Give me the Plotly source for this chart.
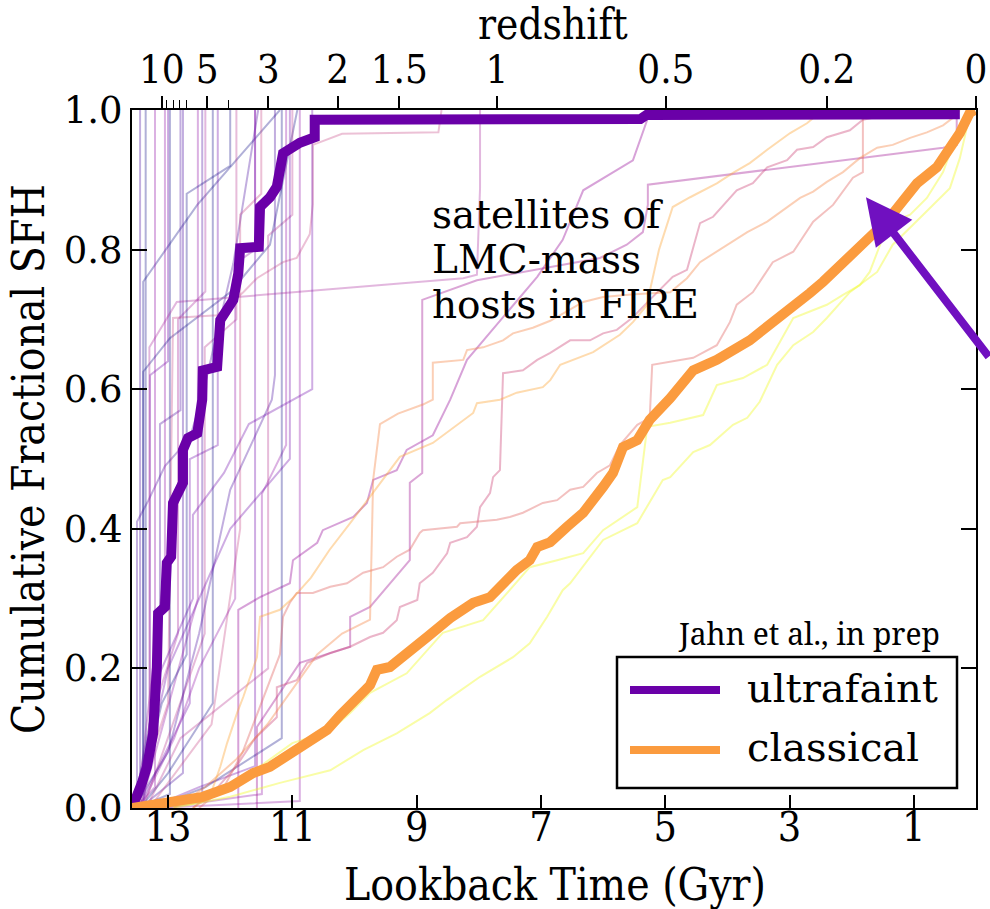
import plotly.graph_objects as go

# ---------------------------------------------------------------------------
# Cumulative star-formation histories of satellites of LMC-mass hosts (FIRE)
# x = lookback time in Gyr, y = cumulative fraction of stellar mass formed
# ---------------------------------------------------------------------------

X_RANGE = [13.58, 0.0]
X_TICKS = [13, 11, 9, 7, 5, 3, 1]
Y_TICKS = [0.0, 0.2, 0.4, 0.6, 0.8, 1.0]
Y_TICK_TEXT = ["0.0", "0.2", "0.4", "0.6", "0.8", "1.0"]

# redshift ticks along the top and the lookback times (Gyr) they sit at
Z_MAJOR_TEXT = ["10", "5", "3", "2", "1.5", "1", "0.5", "0.2", "0"]
Z_MAJOR_LOOKBACK = [13.10, 12.37, 11.39, 10.27, 9.28, 7.71, 4.99, 2.40, 0.0]
Z_MINOR_LOOKBACK = [13.02, 12.92, 12.82, 12.71, 12.02]   # z = 9, 8, 7, 6, 4

# median histories ----------------------------------------------------------
UF_MEDIAN_T = [13.58, 13.50, 13.42, 13.34, 13.24, 13.18, 13.16, 13.05, 13.02,
               12.95, 12.92, 12.76, 12.76, 12.68, 12.53, 12.45, 12.44, 12.21,
               12.16, 11.95, 11.87, 11.84, 11.54, 11.52, 11.36, 11.25, 11.15,
               10.88, 10.64, 10.64, 5.40, 5.30, 0.26]
UF_MEDIAN_F = [0.000, 0.016, 0.036, 0.059, 0.107, 0.202, 0.279, 0.288, 0.351,
               0.360, 0.437, 0.466, 0.513, 0.530, 0.537, 0.585, 0.627, 0.632,
               0.699, 0.728, 0.766, 0.802, 0.804, 0.861, 0.875, 0.890, 0.938,
               0.953, 0.961, 0.986, 0.987, 0.993, 0.994]

CL_MEDIAN_T = [13.58, 12.97, 12.44, 12.00, 11.63, 11.36, 10.99, 10.72, 10.44,
               10.23, 10.02, 9.75, 9.64, 9.43, 8.83, 8.46, 8.09, 7.82, 7.39,
               7.18, 7.06, 6.85, 6.58, 6.32, 6.00, 5.84, 5.68, 5.45, 5.25,
               4.92, 4.55, 4.17, 3.64, 2.99, 2.67, 2.46, 2.03, 1.59, 1.38,
               1.17, 0.95, 0.63, 0.42, 0.26, 0.10, 0.02]
CL_MEDIAN_F = [0.000, 0.007, 0.016, 0.030, 0.050, 0.059, 0.079, 0.093, 0.112,
               0.133, 0.150, 0.176, 0.198, 0.202, 0.245, 0.272, 0.294, 0.302,
               0.341, 0.355, 0.374, 0.381, 0.403, 0.423, 0.460, 0.480, 0.517,
               0.527, 0.556, 0.587, 0.627, 0.642, 0.670, 0.713, 0.738, 0.754,
               0.789, 0.828, 0.847, 0.871, 0.895, 0.918, 0.947, 0.967, 0.996,
               1.000]

# individual ultrafaint satellites: (lookback, fraction) pairs -----------------
UF_01 = [(13.58, 0), (13.40, 0.02), (13.40, 0.754), (12.53, 0.864), (11.20, 1.0)]
UF_02 = [(13.58, 0), (13.50, 0.01), (13.50, 0.41), (13.32, 0.44), (13.05, 0.49),
         (12.65, 0.53), (12.45, 0.59), (11.95, 0.78), (11.55, 1.0)]
UF_03 = [(13.56, 0), (13.36, 0.05), (13.36, 1.0)]
UF_04 = [(13.55, 0), (13.29, 0.10), (13.29, 0.62), (13.00, 0.64), (13.00, 1.0)]
UF_05 = [(13.52, 0), (13.21, 0.03), (13.21, 1.0)]
UF_06 = [(13.55, 0), (13.13, 0.20), (13.13, 0.55), (12.80, 0.57), (12.80, 1.0)]
UF_07 = [(13.50, 0), (13.05, 0.35), (13.05, 1.0)]
UF_08 = [(13.50, 0), (12.97, 0.02), (12.97, 1.0)]
UF_09 = [(13.45, 0), (13.30, 0.12), (12.84, 0.25), (12.84, 0.70), (12.40, 0.74),
         (12.40, 1.0)]
UF_10 = [(13.45, 0), (12.76, 0.05), (12.76, 1.0)]
UF_11 = [(13.58, 0), (13.40, 0.05), (13.40, 0.625), (12.97, 0.673), (12.00, 0.739),
         (11.36, 0.807), (10.92, 1.0)]
UF_12 = [(13.48, 0), (12.65, 0.15), (12.65, 0.50), (12.20, 0.52), (12.20, 1.0)]
UF_13 = [(13.45, 0), (12.52, 0.30), (12.52, 1.0)]
UF_14 = [(13.40, 0), (12.41, 0.25), (12.41, 0.66), (11.90, 0.70), (11.90, 1.0)]
UF_15 = [(13.45, 0), (13.00, 0.05), (12.28, 0.15), (12.28, 1.0)]
UF_16 = [(13.30, 0), (12.30, 0.12), (11.84, 0.40), (11.84, 0.85), (11.50, 0.88),
         (11.50, 1.0)]
UF_17 = [(13.40, 0), (12.45, 0.01), (12.45, 1.0)]
UF_18 = [(13.45, 0), (12.90, 0.10), (12.50, 0.20), (11.92, 0.30), (11.92, 0.78),
         (11.60, 0.80), (11.60, 1.0)]
UF_19 = [(13.55, 0), (13.00, 0.08), (12.50, 0.25), (12.00, 0.456), (11.63, 0.527),
         (11.33, 0.585), (11.28, 0.62), (11.28, 1.0)]
UF_20 = [(13.30, 0), (12.50, 0.03), (11.60, 0.06), (11.60, 1.0)]
UF_21 = [(13.10, 0), (11.49, 0.02), (11.49, 0.45), (11.10, 0.52), (11.10, 1.0)]
UF_22 = [(13.35, 0), (12.80, 0.10), (11.39, 0.20), (11.39, 0.82), (11.00, 0.85),
         (11.00, 1.0)]
UF_23 = [(13.25, 0), (12.40, 0.03), (11.17, 0.10), (11.17, 1.0)]
UF_24 = [(13.50, 0), (13.00, 0.20), (12.00, 0.40), (11.04, 0.50), (11.04, 1.0)]
UF_25 = [(13.20, 0), (10.88, 0.01), (10.88, 1.0)]
UF_26 = [(13.55, 0), (13.00, 0.15), (12.92, 0.702), (12.21, 0.706), (11.79, 0.739),
         (11.57, 0.759), (11.15, 0.782), (10.93, 0.788), (10.72, 0.822),
         (10.67, 0.865), (10.67, 0.950), (10.20, 0.966), (8.65, 0.968), (8.60, 1.0)]
UF_27 = [(13.50, 0), (13.30, 0.10), (13.30, 0.66), (12.86, 0.725), (8.25, 0.759),
         (8.03, 0.764), (7.98, 0.888), (7.98, 1.0)]
UF_28 = [(13.40, 0), (13.20, 0.18), (12.60, 0.30), (12.60, 0.42), (12.10, 0.48),
         (11.70, 0.55), (10.68, 0.60), (10.68, 1.0)]
UF_29 = [(13.58, 0), (13.45, 0.02), (13.45, 1.0)]
UF_30 = [(13.50, 0), (13.10, 0.15), (12.70, 0.22), (12.70, 0.88), (12.00, 0.92),
         (12.00, 1.0)]

# individual classical satellites -------------------------------------------
CL_A = [(11.87, 0.0), (11.87, 0.284), (11.52, 0.302), (11.04, 0.322), (10.99, 0.355),
        (10.60, 0.380), (10.51, 0.398), (10.02, 0.417), (9.80, 0.437), (9.70, 0.470),
        (9.32, 0.484), (9.16, 0.513), (8.74, 0.534), (8.46, 0.585), (8.19, 0.642),
        (7.82, 0.681), (7.06, 0.761), (6.65, 0.814), (6.32, 0.885), (5.52, 0.928),
        (5.29, 0.986), (5.28, 1.0)]
CL_B = [(11.57, 0.0), (11.57, 0.116), (10.88, 0.208), (10.07, 0.231), (10.07, 0.274),
        (9.75, 0.288), (9.11, 0.355), (9.11, 0.466), (8.91, 0.480), (8.91, 0.728),
        (8.03, 0.756), (6.69, 0.778), (6.05, 0.788), (5.62, 0.807), (5.36, 0.825),
        (5.28, 0.864), (5.28, 0.893), (0.53, 0.946), (0.31, 0.950), (0.31, 1.0)]
CL_C = [(12.60, 0.0), (12.20, 0.03), (11.90, 0.06), (11.60, 0.10), (11.25, 0.130),
        (11.25, 0.173), (10.93, 0.183), (10.76, 0.208), (10.39, 0.222), (10.07, 0.231),
        (9.75, 0.245), (9.54, 0.251), (9.32, 0.269), (9.27, 0.288), (8.99, 0.298),
        (8.95, 0.322), (8.74, 0.337), (8.51, 0.365), (8.46, 0.380), (8.19, 0.388),
        (8.03, 0.403), (7.98, 0.431), (7.82, 0.451), (7.77, 0.474), (7.66, 0.484),
        (7.61, 0.613), (7.61, 0.623), (7.29, 0.627), (7.06, 0.642), (6.85, 0.652),
        (6.53, 0.670), (6.21, 0.670), (6.00, 0.680), (5.78, 0.685), (5.52, 0.703),
        (5.25, 0.728), (4.88, 0.761), (4.65, 0.771), (4.44, 0.838), (4.23, 0.847),
        (3.85, 0.885), (3.59, 0.895), (3.36, 0.918), (3.04, 0.928), (2.88, 0.943),
        (2.62, 0.947), (2.40, 0.961), (2.03, 0.971), (1.82, 0.986), (1.27, 0.996),
        (1.17, 1.0)]
CL_D = [(12.50, 0.0), (12.10, 0.03), (11.80, 0.08), (11.50, 0.15), (11.20, 0.22),
        (11.15, 0.274), (11.04, 0.294), (10.93, 0.308), (10.67, 0.308), (10.39, 0.317),
        (10.12, 0.322), (9.86, 0.337), (9.54, 0.345), (9.32, 0.360), (9.11, 0.370),
        (8.95, 0.394), (8.90, 0.398), (8.35, 0.403), (8.30, 0.408), (7.71, 0.413),
        (7.50, 0.417), (7.29, 0.423), (6.97, 0.437), (6.74, 0.441), (6.53, 0.456),
        (6.32, 0.460), (6.10, 0.480), (5.89, 0.491), (5.73, 0.520), (5.45, 0.549),
        (5.25, 0.559), (5.21, 0.635), (4.55, 0.645), (4.17, 0.663), (3.96, 0.696),
        (3.85, 0.721), (3.59, 0.739), (3.27, 0.782), (2.94, 0.797), (2.62, 0.840),
        (2.30, 0.864), (1.98, 0.903), (1.82, 0.911), (1.82, 0.989), (1.54, 0.997),
        (1.22, 1.0)]
CL_E = [(12.90, 0.0), (12.40, 0.03), (11.90, 0.07), (11.40, 0.12), (11.00, 0.17),
        (10.60, 0.22), (10.20, 0.25), (9.75, 0.27), (9.70, 0.47), (9.59, 0.55),
        (9.30, 0.565), (8.90, 0.578), (8.74, 0.585), (8.74, 0.638), (8.25, 0.642),
        (8.19, 0.656), (7.93, 0.660), (7.61, 0.670), (7.45, 0.680), (7.13, 0.688),
        (6.85, 0.698), (6.32, 0.725), (6.00, 0.732), (5.50, 0.736), (4.92, 0.739),
        (4.65, 0.759), (4.44, 0.782), (4.01, 0.807), (3.68, 0.825), (3.36, 0.840),
        (3.04, 0.860), (2.83, 0.874), (2.62, 0.883), (2.40, 0.897), (2.14, 0.911),
        (1.87, 0.931), (1.59, 0.946), (1.34, 0.950), (1.06, 0.960), (0.79, 0.968),
        (0.53, 0.978), (0.37, 0.989), (0.26, 1.0)]
CL_F = [(12.60, 0.0), (12.33, 0.016), (12.16, 0.059), (12.05, 0.093), (11.89, 0.136),
        (11.79, 0.159), (11.57, 0.216), (11.52, 0.274), (11.20, 0.284), (11.00, 0.30),
        (10.70, 0.33), (10.40, 0.37), (10.07, 0.408), (9.54, 0.470), (9.27, 0.503),
        (8.74, 0.523), (8.09, 0.566), (8.03, 0.580), (7.66, 0.585), (7.39, 0.595),
        (6.97, 0.603), (6.85, 0.613), (6.69, 0.635), (6.16, 0.653), (5.73, 0.678),
        (5.52, 0.696), (5.30, 0.720), (5.10, 0.800), (4.88, 0.861), (4.60, 0.875),
        (4.17, 0.895), (3.91, 0.910), (3.64, 0.924), (3.36, 0.943), (2.99, 0.967),
        (2.72, 0.981), (2.46, 1.0)]
CL_G = [(13.20, 0.0), (12.60, 0.006), (12.20, 0.02), (11.80, 0.044), (11.45, 0.064),
        (11.00, 0.093), (10.40, 0.11), (10.07, 0.136), (9.75, 0.165), (9.16, 0.193),
        (8.58, 0.251), (7.93, 0.269), (7.50, 0.312), (7.18, 0.345), (6.74, 0.355),
        (6.32, 0.365), (6.00, 0.398), (5.45, 0.431), (5.29, 0.546), (4.92, 0.552),
        (4.39, 0.563), (4.17, 0.606), (3.75, 0.616), (3.36, 0.635), (2.94, 0.702),
        (2.67, 0.711), (2.40, 0.721), (2.14, 0.735), (1.87, 0.749), (1.71, 0.768),
        (1.59, 0.797), (1.50, 0.817), (1.34, 0.840), (1.06, 0.850), (0.79, 0.874),
        (0.53, 0.911), (0.37, 0.950), (0.26, 0.968), (0.21, 0.983), (0.13, 1.0)]
CL_H = [(12.92, 0.0), (12.00, 0.016), (11.20, 0.036), (10.39, 0.054), (9.86, 0.083),
        (9.32, 0.107), (8.79, 0.136), (8.51, 0.155), (7.98, 0.188), (7.45, 0.216),
        (7.18, 0.236), (6.90, 0.274), (6.65, 0.312), (6.53, 0.322), (6.00, 0.384),
        (5.45, 0.408), (5.04, 0.470), (4.92, 0.474), (4.55, 0.510), (4.28, 0.520),
        (3.91, 0.549), (3.68, 0.559), (3.48, 0.582), (3.20, 0.635), (2.94, 0.663),
        (2.62, 0.682), (2.40, 0.702), (2.03, 0.739), (1.59, 0.768), (1.34, 0.807),
        (0.85, 0.850), (0.42, 0.888), (0.26, 0.931), (0.14, 0.978), (0.10, 0.993),
        (0.03, 1.0)]

# colours follow the plasma map, ordered by stellar mass
UF_SET = [
    (UF_01, "#0d0887"), (UF_02, "#41049d"), (UF_03, "#0d0887"), (UF_04, "#6a00a8"),
    (UF_05, "#8f0da4"), (UF_06, "#41049d"), (UF_07, "#8f0da4"), (UF_08, "#0d0887"),
    (UF_09, "#a62098"), (UF_10, "#41049d"), (UF_11, "#0d0887"), (UF_12, "#6a00a8"),
    (UF_13, "#8f0da4"), (UF_14, "#b52f8c"), (UF_15, "#0d0887"), (UF_16, "#c33d80"),
    (UF_17, "#41049d"), (UF_18, "#8f0da4"), (UF_19, "#41049d"), (UF_20, "#6a00a8"),
    (UF_21, "#8f0da4"), (UF_22, "#b52f8c"), (UF_23, "#0d0887"), (UF_24, "#6a00a8"),
    (UF_25, "#8f0da4"), (UF_26, "#c33d80"), (UF_27, "#a62098"), (UF_28, "#6a00a8"),
    (UF_29, "#41049d"), (UF_30, "#0d0887"),
]
CL_SET = [
    (CL_A, "#9c179e"), (CL_B, "#a62098"), (CL_C, "#cc4778"), (CL_D, "#e16462"),
    (CL_E, "#f48849"), (CL_F, "#fca636"), (CL_G, "#f0f921"), (CL_H, "#f0f921"),
]

UF_COLOR = "#6a00a8"
CL_COLOR = "#fb9b3e"
ARROW_COLOR = "#7010c0"

SERIF = "DejaVu Serif"
SERIF_C = "DejaVu Serif Condensed, DejaVu Serif"


def rgba(hex_color, alpha):
    h = hex_color.lstrip("#")
    r, g, b = int(h[0:2], 16), int(h[2:4], 16), int(h[4:6], 16)
    return f"rgba({r},{g},{b},{alpha})"


fig = go.Figure()

for pts, col in UF_SET:
    t, f = zip(*pts)
    fig.add_trace(go.Scatter(x=list(t), y=list(f), mode="lines",
                             line=dict(color=rgba(col, 0.32), width=2),
                             showlegend=False, hoverinfo="skip"))

for pts, col in CL_SET:
    t, f = zip(*pts)
    fig.add_trace(go.Scatter(x=list(t), y=list(f), mode="lines",
                             line=dict(color=rgba(col, 0.40), width=2),
                             showlegend=False, hoverinfo="skip"))

fig.add_trace(go.Scatter(x=UF_MEDIAN_T, y=UF_MEDIAN_F, mode="lines",
                         line=dict(color=UF_COLOR, width=10),
                         name="ultrafaint", showlegend=False))
fig.add_trace(go.Scatter(x=CL_MEDIAN_T, y=CL_MEDIAN_F, mode="lines",
                         line=dict(color=CL_COLOR, width=10),
                         name="classical", showlegend=False))

# carrier for the redshift axis along the top
fig.add_trace(go.Scatter(x=[], y=[], xaxis="x2", showlegend=False))

fig.update_layout(
    width=990, height=909,
    margin=dict(l=132, r=14, t=110, b=101, autoexpand=False),
    paper_bgcolor="white", plot_bgcolor="white",
    font=dict(family=SERIF, color="black"),
    xaxis=dict(
        range=X_RANGE, tickvals=X_TICKS, ticktext=[str(v) for v in X_TICKS],
        ticks="inside", ticklen=13, tickwidth=1.5, tickcolor="black",
        ticklabelstandoff=-18,
        showline=True, linewidth=2, linecolor="black",
        showgrid=False, zeroline=False, automargin=False,
        tickfont=dict(family=SERIF_C, size=41),
    ),
    xaxis2=dict(
        overlaying="x", side="top", anchor="y",
        range=X_RANGE, tickvals=Z_MAJOR_LOOKBACK, ticktext=Z_MAJOR_TEXT,
        ticks="outside", ticklen=12, tickwidth=1.5, tickcolor="black",
        ticklabelstandoff=-3,
        minor=dict(tickvals=Z_MINOR_LOOKBACK, ticks="outside", ticklen=8,
                   tickwidth=1.2, tickcolor="black"),
        showline=True, linewidth=2, linecolor="black",
        showgrid=False, zeroline=False, automargin=False,
        tickfont=dict(family=SERIF_C, size=40),
    ),
    yaxis=dict(
        range=[0, 1], tickvals=Y_TICKS, ticktext=Y_TICK_TEXT,
        ticks="inside", ticklen=15, tickwidth=1.5, tickcolor="black",
        showline=True, linewidth=2, linecolor="black", mirror="ticks",
        showgrid=False, zeroline=False, automargin=False,
        tickfont=dict(family=SERIF, size=37),
    ),
)


# positions of texts given in panel pixels, converted to paper fractions
def px(xp):
    return (xp - 132) / 844.0


def py(yp):
    return (808 - yp) / 698.0


# axis titles
fig.add_annotation(x=px(555), y=py(884), xref="paper", yref="paper",
                   text="Lookback Time (Gyr)", showarrow=False,
                   xanchor="center", yanchor="middle",
                   font=dict(family=SERIF_C, size=44, color="black"))
fig.add_annotation(x=px(553), y=py(24), xref="paper", yref="paper",
                   text="redshift", showarrow=False,
                   xanchor="center", yanchor="middle",
                   font=dict(family=SERIF_C, size=42, color="black"))
fig.add_annotation(x=px(28), y=py(459), xref="paper", yref="paper",
                   text="Cumulative Fractional SFH", showarrow=False, textangle=-90,
                   xanchor="center", yanchor="middle",
                   font=dict(family=SERIF_C, size=44, color="black"))

# in-panel label
for txt, yc in [("satellites of", 0.851), ("LMC-mass", 0.786), ("hosts in FIRE", 0.722)]:
    fig.add_annotation(x=8.78, y=yc, xref="x", yref="y", text=txt, showarrow=False,
                       xanchor="left", yanchor="middle",
                       font=dict(family=SERIF, size=39, color="black"))

fig.add_annotation(x=1.77, y=0.875, xref="x", yref="y", text="",
                   showarrow=True, arrowhead=2, arrowsize=1.15, arrowwidth=8,
                   arrowcolor=ARROW_COLOR, ax=134, ay=161, axref="pixel", ayref="pixel")

# legend box
fig.add_shape(type="rect", xref="paper", yref="paper",
              x0=px(617), x1=px(957), y0=py(788), y1=py(657),
              line=dict(color="black", width=2.5), fillcolor="white", layer="above")
fig.add_shape(type="line", xref="paper", yref="paper",
              x0=px(630), x1=px(720), y0=py(690), y1=py(690),
              line=dict(color=UF_COLOR, width=8), layer="above")
fig.add_shape(type="line", xref="paper", yref="paper",
              x0=px(630), x1=px(720), y0=py(750), y1=py(750),
              line=dict(color=CL_COLOR, width=8), layer="above")
fig.add_annotation(x=px(745), y=py(688), xref="paper", yref="paper",
                   text="ultrafaint", showarrow=False, xanchor="left", yanchor="middle",
                   font=dict(family=SERIF, size=40, color="black"))
fig.add_annotation(x=px(745), y=py(747), xref="paper", yref="paper",
                   text="classical", showarrow=False, xanchor="left", yanchor="middle",
                   font=dict(family=SERIF, size=40, color="black"))
fig.add_annotation(x=px(942), y=py(633), xref="paper", yref="paper",
                   text="Jahn et al., in prep", showarrow=False,
                   xanchor="right", yanchor="middle",
                   font=dict(family="Noto Serif, Liberation Serif, serif", size=30,
                             color="black"))

fig.write_html("out.html")
